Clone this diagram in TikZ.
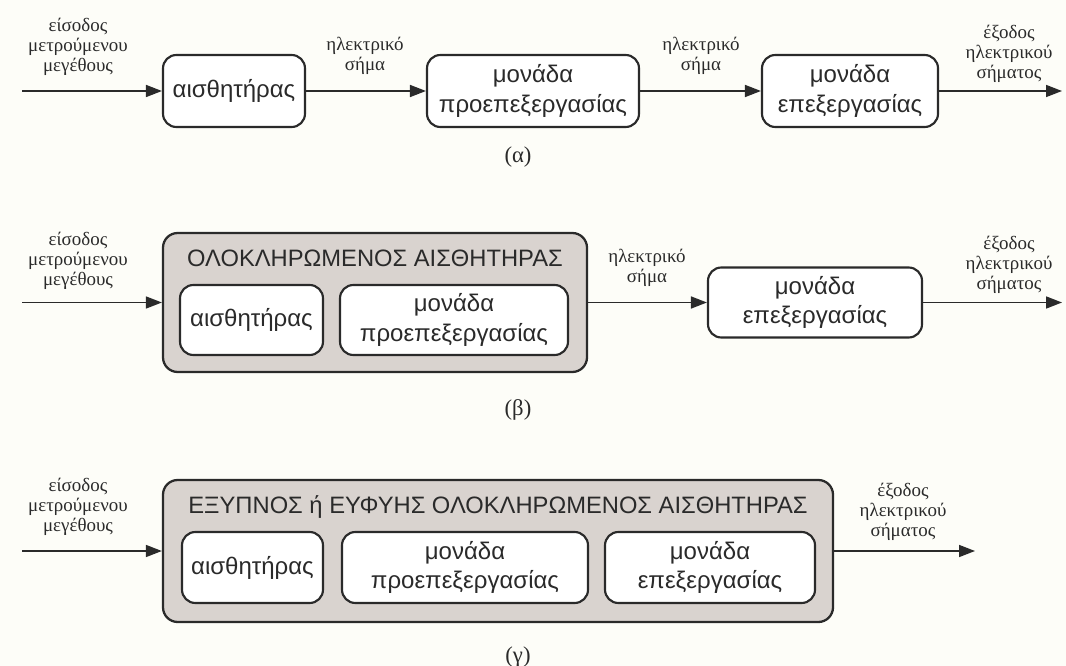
\documentclass[tikz,border=0pt]{standalone}
\usepackage{fontspec}
\setmainfont{Liberation Serif}
\newfontfamily\boxfont{Liberation Sans}
\usetikzlibrary{arrows.meta}
\definecolor{ink}{HTML}{2A2A2A}
\definecolor{shade}{HTML}{D9D3CF}
\definecolor{paper}{HTML}{FDFDF8}
\tikzset{
  blk/.style={draw=ink, line width=1.6pt, rounded corners=10pt, fill=white,
    align=center, inner sep=0pt, text=ink,
    font=\boxfont\fontsize{18}{22}\selectfont},
  outer/.style={draw=ink, line width=1.7pt, rounded corners=11pt, fill=shade, inner sep=0pt},
  ttl/.style={text=ink, font=\boxfont\fontsize{17.8}{20}\selectfont},
  lbl/.style={align=center, text=ink, inner sep=0pt, font=\fontsize{14.2}{14.8}\selectfont},
  captxt/.style={text=ink, inner sep=0pt, font=\fontsize{17}{20}\selectfont},
  flow/.style={draw=ink, line width=1.2pt, -{Triangle[length=12pt,width=9pt]}}
}
\begin{document}
\begin{tikzpicture}[x=0.75pt,y=-0.75pt]
\fill[paper] (0,0) rectangle (1066,666);
\useasboundingbox (0,0) rectangle (1066,666);

% ---------- (a)
\node[blk, minimum width=106.5pt, minimum height=54pt] (a1) at (234,91) {αισθητήρας};
\node[blk, minimum width=159pt, minimum height=54pt] (a2) at (533,91) {μονάδα\\προεπεξεργασίας};
\node[blk, minimum width=132pt, minimum height=54pt] (a3) at (850,91) {μονάδα\\επεξεργασίας};
\coordinate (ain) at (22,91);
\coordinate (aout) at (1062,91);
\draw[flow] (ain) -- (a1);
\draw[flow] (a1) -- (a2);
\draw[flow] (a2) -- (a3);
\draw[flow] (a3) -- (aout);
\node[lbl] (ainl) at (78,47) {είσοδος\\μετρούμενου\\μεγέθους};
\node[lbl] (a12l) at (365,56) {ηλεκτρικό\\σήμα};
\node[lbl] (a23l) at (701,56) {ηλεκτρικό\\σήμα};
\node[lbl] (aoutl) at (1009,54) {έξοδος\\ηλεκτρικού\\σήματος};
\node[captxt] (acap) at (518,157) {(α)};

% ---------- (b)
\node[outer, minimum width=318pt, minimum height=104.25pt] (b0) at (375,302.5) {};
\node[ttl] (bt) at (375,258) {ΟΛΟΚΛΗΡΩΜΕΝΟΣ ΑΙΣΘΗΤΗΡΑΣ};
\node[blk, minimum width=107.25pt, minimum height=52.5pt] (b1) at (251.5,320) {αισθητήρας};
\node[blk, minimum width=171pt, minimum height=52.5pt] (b2) at (454,320) {μονάδα\\προεπεξεργασίας};
\node[blk, minimum width=160.5pt, minimum height=52.5pt] (b3) at (815,302.5) {μονάδα\\επεξεργασίας};
\coordinate (bin) at (22,302.5);
\coordinate (bout) at (1062,302.5);
\draw[flow] (bin) -- (b0);
\draw[flow] (b0) -- (b3);
\draw[flow] (b3) -- (bout);
\node[lbl] (binl) at (78,261) {είσοδος\\μετρούμενου\\μεγέθους};
\node[lbl] (b03l) at (647,268) {ηλεκτρικό\\σήμα};
\node[lbl] (boutl) at (1009,265) {έξοδος\\ηλεκτρικού\\σήματος};
\node[captxt] (bcap) at (518,410) {(β)};

% ---------- (c)
\node[outer, minimum width=502.5pt, minimum height=106.5pt] (g0) at (498,551) {};
\node[ttl] (gt) at (498,507) {ΕΞΥΠΝΟΣ ή ΕΥΦΥΗΣ ΟΛΟΚΛΗΡΩΜΕΝΟΣ ΑΙΣΘΗΤΗΡΑΣ};
\node[blk, minimum width=105.75pt, minimum height=53.25pt] (g1) at (252.5,567.5) {αισθητήρας};
\node[blk, minimum width=184.5pt, minimum height=53.25pt] (g2) at (465,567.5) {μονάδα\\προεπεξεργασίας};
\node[blk, minimum width=157.5pt, minimum height=53.25pt] (g3) at (710,567.5) {μονάδα\\επεξεργασίας};
\coordinate (gin) at (22,551);
\coordinate (gout) at (975,551);
\draw[flow] (gin) -- (g0);
\draw[flow] (g0) -- (gout);
\node[lbl] (ginl) at (78,507) {είσοδος\\μετρούμενου\\μεγέθους};
\node[lbl] (goutl) at (903,512) {έξοδος\\ηλεκτρικού\\σήματος};
\node[captxt] (gcap) at (518,657) {(γ)};
\end{tikzpicture}
\end{document}
